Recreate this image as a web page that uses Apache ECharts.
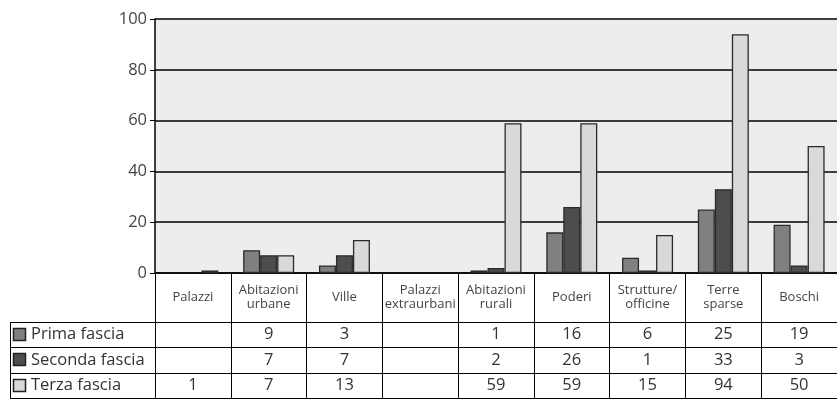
<!DOCTYPE html>
<html><head><meta charset="utf-8">
<script src="https://cdn.jsdelivr.net/npm/echarts@6/dist/echarts.min.js"></script>
<style>html,body{margin:0;padding:0;background:#fff}#c{width:837px;height:403px}</style>
</head><body><div id="c"></div>
<script>
const categories = ['Palazzi','Abitazioni\nurbane','Ville','Palazzi\nextraurbani','Abitazioni\nrurali','Poderi','Strutture/\nofficine','Terre\nsparse','Boschi'];
const seriesNames = ['Prima fascia','Seconda fascia','Terza fascia'];
const prima   = [null, 9, 3, null, 1, 16, 6, 25, 19];
const seconda = [null, 7, 7, null, 2, 26, 1, 33, 3];
const terza   = [1, 7, 13, null, 59, 59, 15, 94, 50];
const yTicks = [0, 20, 40, 60, 80, 100];
const colors = ['#808080', '#4d4d4d', '#d9d9d9'];

const FONT = 'Open Sans';
const GL = 155, GT = 19, GW = 690, GH = 254;
const HEADER_H = 49, ROW_H = 25.3, TABLE_LEFT = 10;
const values = [prima, seconda, terza];

const chart = echarts.init(document.getElementById('c'));

const extraAxes = values.map((arr, i) => ({
  type: 'category', data: categories, position: 'bottom', gridIndex: 0,
  offset: HEADER_H + ROW_H * i,
  axisLine: {show: false}, axisTick: {show: false}, splitLine: {show: false},
  axisLabel: {interval: 0, margin: ROW_H / 2, verticalAlign: 'middle', fontFamily: FONT, fontSize: 16.5, color: '#333',
    formatter: (v, idx) => arr[idx] == null ? '' : String(arr[idx])}
}));

const graphics = [];
const tableBottom = GT + GH + HEADER_H + ROW_H * 3;
for (let i = 0; i <= 3; i++) {
  const y = Math.round(GT + GH + HEADER_H + ROW_H * i) + 0.5;
  graphics.push({type: 'line', shape: {x1: TABLE_LEFT, y1: y, x2: GL + GW, y2: y}, style: {stroke: '#000', lineWidth: 1}, silent: true});
}
graphics.push({type: 'line', shape: {x1: TABLE_LEFT + 0.5, y1: GT + GH + HEADER_H, x2: TABLE_LEFT + 0.5, y2: tableBottom}, style: {stroke: '#000', lineWidth: 1}, silent: true});
seriesNames.forEach((name, i) => {
  const cy = GT + GH + HEADER_H + ROW_H * i + ROW_H / 2;
  graphics.push({type: 'rect', shape: {x: 13.5, y: Math.round(cy - 6.5) + 0.5, width: 12, height: 12}, style: {fill: colors[i], stroke: '#222', lineWidth: 1.5}, silent: true});
  graphics.push({type: 'text', x: 31, y: cy, style: {text: name, fontFamily: FONT, fontSize: 16.5, fill: '#333', verticalAlign: 'middle', align: 'left'}, silent: true});
});

chart.setOption({
  animation: false,
  backgroundColor: '#fff',
  grid: {left: GL, top: GT, width: GW, height: GH, show: true, backgroundColor: '#ededed', borderWidth: 0},
  xAxis: [{
    type: 'category', data: categories, position: 'bottom',
    axisLine: {show: true, lineStyle: {color: '#000', width: 1.5}},
    axisTick: {show: true, interval: 0, length: HEADER_H + ROW_H * 3, lineStyle: {color: '#000', width: 1}},
    axisLabel: {interval: 0, margin: HEADER_H / 2, verticalAlign: 'middle', fontFamily: FONT, fontSize: 13, lineHeight: 14.5, color: '#444'},
    splitLine: {show: false}
  }].concat(extraAxes),
  yAxis: {
    type: 'value', min: yTicks[0], max: yTicks[yTicks.length - 1], interval: 20,
    axisLine: {show: true, lineStyle: {color: '#000', width: 1.5}},
    axisTick: {show: true, length: 5, lineStyle: {color: '#000', width: 1}},
    axisLabel: {margin: 8, fontFamily: FONT, fontSize: 16.5, color: '#444'},
    splitLine: {show: true, lineStyle: {color: '#000', width: 1.5}}
  },
  series: values.map((arr, i) => ({
    name: seriesNames[i], type: 'bar', data: arr, barWidth: 17, barGap: '0%',
    itemStyle: {color: colors[i], borderColor: '#2a2a2a', borderWidth: 1.3}
  })),
  graphic: graphics
});
</script></body></html>
